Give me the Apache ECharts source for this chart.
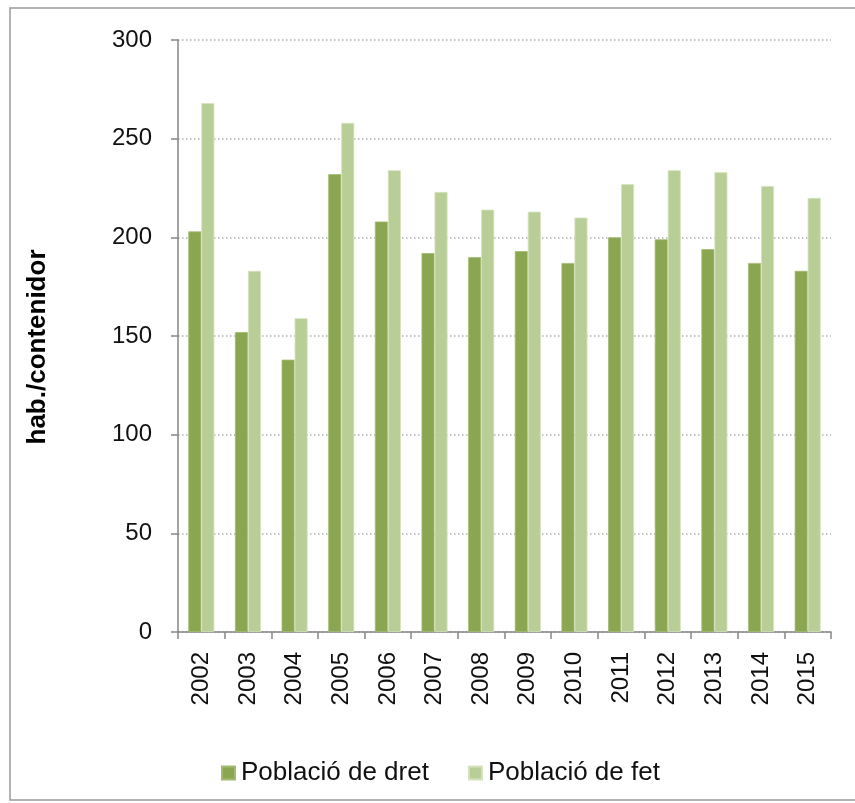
<!DOCTYPE html>
<html>
<head>
<meta charset="utf-8">
<script src="https://cdn.jsdelivr.net/npm/echarts@6/dist/echarts.min.js"></script>
<style>
html,body{margin:0;padding:0;background:#fff;}
#chart{width:855px;height:803px;}
</style>
</head>
<body>
<div id="chart"></div>
<script>
const years = ['2002','2003','2004','2005','2006','2007','2008','2009','2010','2011','2012','2013','2014','2015'];
const poblacioDret = [203, 152, 138, 232, 208, 192, 190, 193, 187, 200, 199, 194, 187, 183];
const poblacioFet = [268, 183, 159, 258, 234, 223, 214, 213, 210, 227, 234, 233, 226, 220];
const seriesNames = ['Població de dret', 'Població de fet'];
const yAxisTitle = 'hab./contenidor';

const chart = echarts.init(document.getElementById('chart'), null, {renderer: 'canvas'});
const font = 'Liberation Sans, Arial, sans-serif';
chart.setOption({
  animation: false,
  backgroundColor: '#fff',
  graphic: [{
    type: 'rect',
    shape: {x: 10, y: 8, width: 850, height: 792},
    style: {fill: 'none', stroke: '#9a9a9a', lineWidth: 1.5},
    silent: true
  }, {
    type: 'text',
    x: 38, y: 347,
    rotation: Math.PI / 2,
    style: {
      text: yAxisTitle, fontFamily: font, fontSize: 26, fontWeight: 'bold',
      fill: '#000', align: 'center', verticalAlign: 'middle'
    },
    silent: true
  }],
  grid: {left: 178, right: 24, top: 40, bottom: 171, containLabel: false},
  legend: {
    data: seriesNames,
    bottom: 12,
    left: 216,
    itemWidth: 13,
    itemHeight: 13,
    itemGap: 39,
    icon: 'rect',
    textStyle: {fontFamily: font, fontSize: 26, color: '#111', padding: [0,0,0,1]}
  },
  xAxis: {
    type: 'category',
    data: years,
    boundaryGap: true,
    axisLine: {lineStyle: {color: '#868686', width: 1.5}},
    axisTick: {show: true, length: 7, interval: 0, alignWithLabel: false, lineStyle: {color: '#868686', width: 1.5}},
    axisLabel: {rotate: 90, interval: 0, margin: 20, fontFamily: font, fontSize: 24, color: '#111'},
    splitLine: {show: false}
  },
  yAxis: {
    type: 'value',
    min: 0, max: 300, interval: 50,
    axisLine: {show: true, lineStyle: {color: '#868686', width: 1.5}},
    axisTick: {show: true, length: 7, lineStyle: {color: '#868686', width: 1.5}},
    axisLabel: {margin: 26, fontFamily: font, fontSize: 24, color: '#111'},
    splitLine: {show: true, lineStyle: {color: '#b0b0b0', type: [1.5, 2.5], width: 1.5}}
  },
  series: [
    {
      name: seriesNames[0], type: 'bar', data: poblacioDret,
      barWidth: 13, barGap: '0%',
      itemStyle: {color: '#8BA650', borderColor: '#a3ba72', borderWidth: 0.8}
    },
    {
      name: seriesNames[1], type: 'bar', data: poblacioFet,
      barWidth: 13,
      itemStyle: {color: '#B9CE96', borderColor: '#d5e2bf', borderWidth: 0.8}
    }
  ]
});
</script>
</body>
</html>
